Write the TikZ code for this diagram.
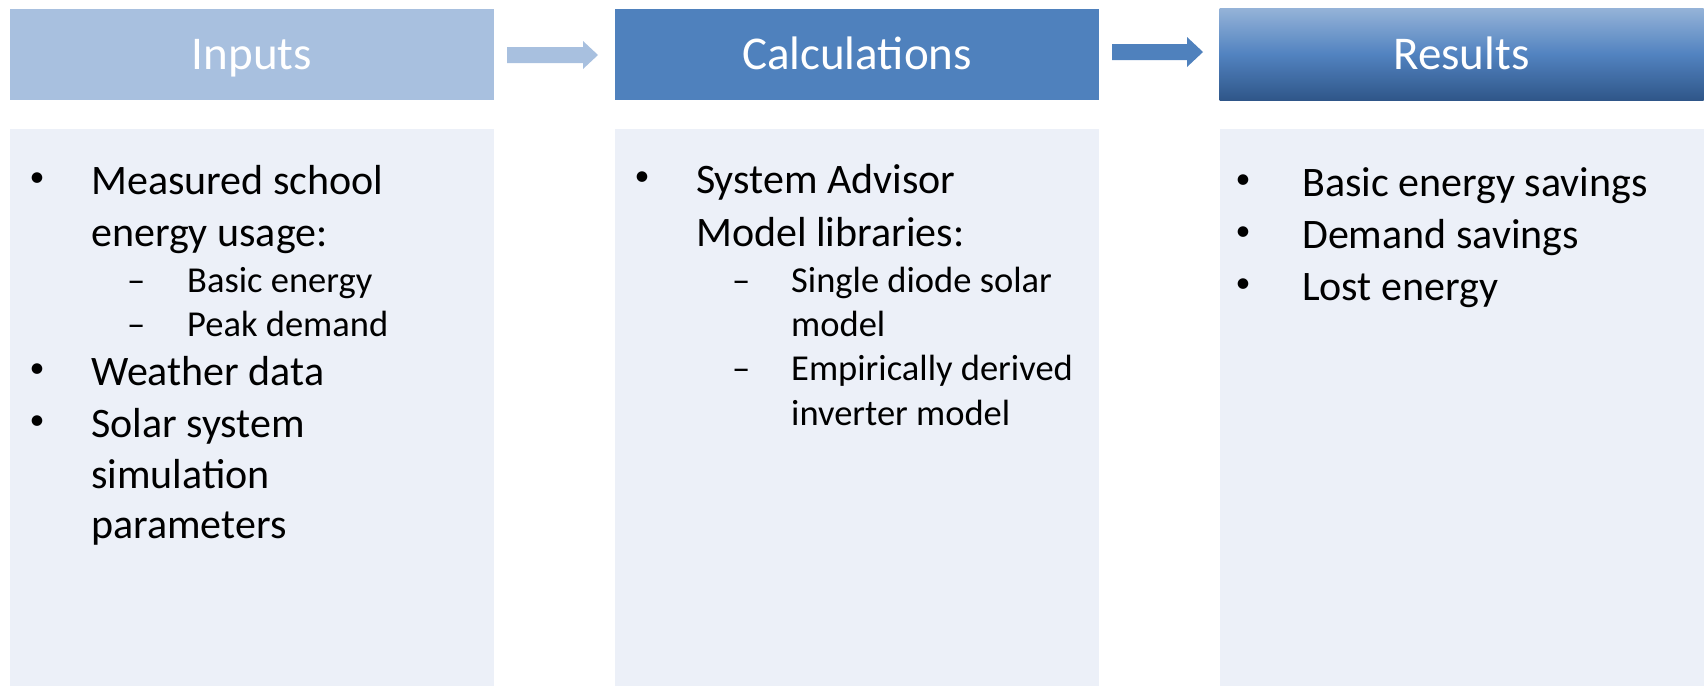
\documentclass[tikz,border=0pt]{standalone}
\usepackage{fontspec}
\setmainfont{Carlito}
\definecolor{inhead}{HTML}{A8C0DF}
\definecolor{calchead}{HTML}{4F81BD}
\definecolor{restop}{HTML}{95B3D8}
\definecolor{resmid}{HTML}{5283C0}
\definecolor{resbot}{HTML}{2F5689}
\definecolor{bodyfill}{HTML}{ECF0F8}
\begin{document}
\begin{tikzpicture}[x=1pt,y=-1pt,
  hdr/.style={rectangle, inner sep=0, minimum width=484pt, minimum height=91pt, text=white, text height=30pt, text depth=0pt, font=\fontsize{47}{56}\selectfont},
  bodybox/.style={rectangle, fill=bodyfill, inner sep=0, minimum width=484pt, minimum height=557pt},
  lvl1/.style={anchor=base west, inner sep=0, font=\fontsize{42}{50}\selectfont},
  lvl2/.style={anchor=base west, inner sep=0, font=\fontsize{36.5}{44}\selectfont},
  bul/.style={anchor=center, inner sep=0, font=\fontsize{30}{36}\selectfont},
]
\useasboundingbox (0,0) rectangle (1705,686);
% headers
\node[hdr, fill=inhead] (hin) at (252,54.5) {Inputs};
\node[hdr, fill=calchead] (hcalc) at (857,54.5) {Calculations};
\node[hdr, minimum height=92pt, top color=restop, bottom color=resbot, middle color=resmid] (hres) at (1461.5,54) {Results};
% bodies
\node[bodybox] (bin) at (252,407.5) {};
\node[bodybox] (bcalc) at (857,407.5) {};
\node[bodybox] (bres) at (1461.5,407.5) {};
% arrows
\fill[inhead] (507,47) -- (583,47) -- (583,41) -- (598,55) -- (583,69) -- (583,63) -- (507,63) -- cycle;
\fill[calchead] (1112,44) -- (1187,44) -- (1187,37) -- (1203,52) -- (1187,67) -- (1187,60) -- (1112,60) -- cycle;
% column 1
\node[bul] (b1) at (37,180) {•};
\node[lvl1] (t1a) at (91,194) {Measured school};
\node[lvl1] (t1b) at (91,246) {energy usage:};
\node[lvl2] (d1) at (127,292) {–};
\node[lvl2] (t1c) at (187,292) {Basic energy};
\node[lvl2] (d2) at (127,336) {–};
\node[lvl2] (t1d) at (187,336) {Peak demand};
\node[bul] (b2) at (37,371) {•};
\node[lvl1] (t1e) at (91,385) {Weather data};
\node[bul] (b3) at (37,423) {•};
\node[lvl1] (t1f) at (91,437) {Solar system};
\node[lvl1] (t1g) at (91,488) {simulation};
\node[lvl1] (t1h) at (91,538) {parameters};
% column 2
\node[bul] (b4) at (642,179) {•};
\node[lvl1] (t2a) at (696,193) {System Advisor};
\node[lvl1] (t2b) at (696,246) {Model libraries:};
\node[lvl2] (d3) at (732,292) {–};
\node[lvl2] (t2c) at (791,292) {Single diode solar};
\node[lvl2] (t2d) at (791,336) {model};
\node[lvl2] (d4) at (732,380) {–};
\node[lvl2] (t2e) at (791,380) {Empirically derived};
\node[lvl2] (t2f) at (791,425) {inverter model};
% column 3
\node[bul] (b5) at (1243,182) {•};
\node[lvl1] (t3a) at (1302,196) {Basic energy savings};
\node[bul] (b6) at (1243,234) {•};
\node[lvl1] (t3b) at (1302,248) {Demand savings};
\node[bul] (b7) at (1243,286) {•};
\node[lvl1] (t3c) at (1302,300) {Lost energy};
\end{tikzpicture}
\end{document}
